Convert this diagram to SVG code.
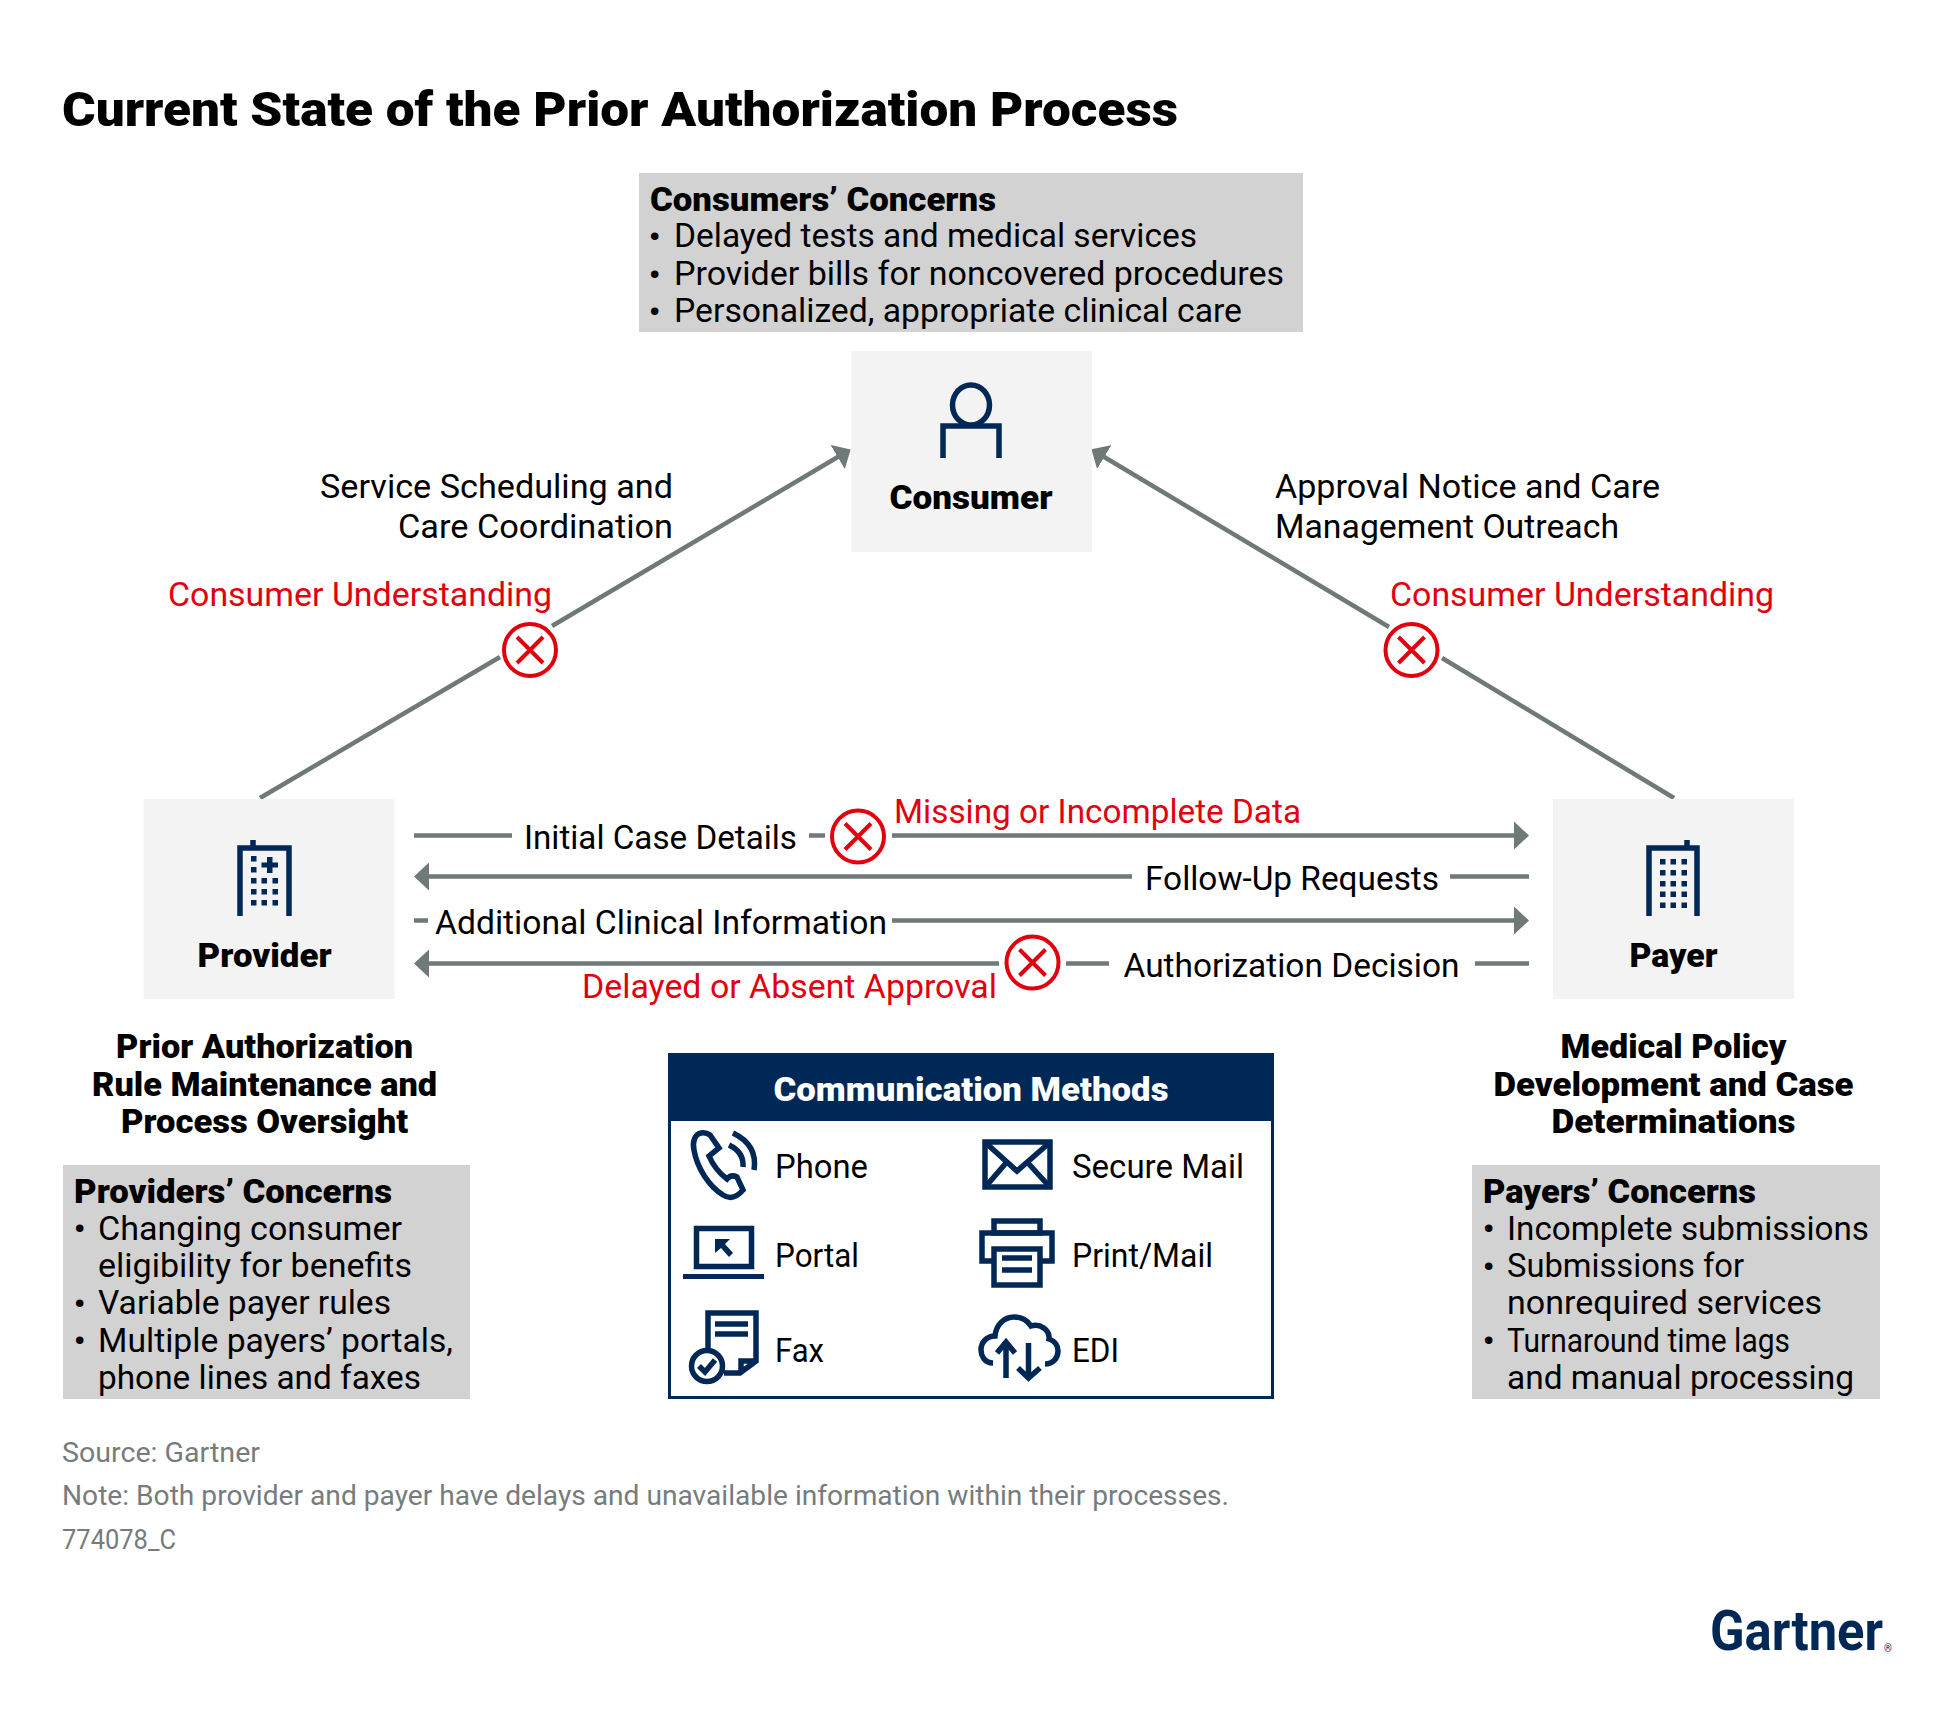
<svg xmlns="http://www.w3.org/2000/svg" width="1939" height="1709" viewBox="0 0 1939 1709">
<style>
text{font-family:Roboto,"Liberation Sans",sans-serif;font-size:34px;fill:#000}
.b{font-weight:900;font-size:33px}
.c{text-anchor:middle}
.r{fill:#e2000f}
.g{font-size:27px;fill:#767c7c}
.u{font-weight:900;font-size:30px}
.w{fill:#fff}
.node{fill:#f3f3f3}
.con{fill:#d2d2d2}
.ln{fill:none;stroke:#6f7a78;stroke-width:4.5}
.ic{fill:none;stroke:#002856;stroke-width:5.5}
.f{fill:#002856}
.xc{fill:#fff;stroke:#e2000f;stroke-width:4}
.xx{stroke:#e2000f;stroke-width:4;fill:none}
</style>
<defs>
<marker id="ah" markerUnits="userSpaceOnUse" markerWidth="15" markerHeight="28" viewBox="0 0 15 28" refX="5" refY="14" orient="auto"><path d="M0,0L15,14L0,28Z" fill="#6f7a78"/></marker>
<g id="x"><circle r="26" class="xc"/><path d="M-13,-13L13,13M13,-13L-13,13" class="xx"/></g>
</defs>
<rect width="1939" height="1709" fill="#fff"/>
<text id="title" x="62" y="126" class="b" style="font-size:48px" textLength="1116" lengthAdjust="spacingAndGlyphs">Current State of the Prior Authorization Process</text>

<g id="connectors">
<path class="ln" d="M260,798L500,657M552,626L842,454.500" marker-end="url(#ah)"/>
<path class="ln" d="M1674,798L1442,658M1389,627L1100,454.500" marker-end="url(#ah)"/>
<path class="ln" d="M414,835.500H512M809,835.500H825M892,835.500H1519" marker-end="url(#ah)"/>
<path class="ln" d="M1529,876.500H1450M1132,876.500H424" marker-end="url(#ah)"/>
<path class="ln" d="M414,920.500H428M892,920.500H1519" marker-end="url(#ah)"/>
<path class="ln" d="M1529,963.500H1475M1109,963.500H1066M999,963.500H424" marker-end="url(#ah)"/>
</g>
<use href="#x" x="530" y="650"/>
<use href="#x" x="1411.500" y="650"/>
<use href="#x" x="858" y="836.500"/>
<use href="#x" x="1032.500" y="962.500"/>

<g id="consumer-concerns">
<rect class="con" x="639" y="173" width="664" height="159"/>
<text x="650" y="211" class="b" textLength="346" lengthAdjust="spacingAndGlyphs">Consumers’ Concerns</text>
<text x="649" y="247" class="u">•</text><text x="674" y="247" textLength="523" lengthAdjust="spacingAndGlyphs">Delayed tests and medical services</text>
<text x="649" y="284.500" class="u">•</text><text x="674" y="284.500" textLength="610" lengthAdjust="spacingAndGlyphs">Provider bills for noncovered procedures</text>
<text x="649" y="322" class="u">•</text><text x="674" y="322" textLength="568" lengthAdjust="spacingAndGlyphs">Personalized, appropriate clinical care</text>
</g>

<g id="consumer">
<rect class="node" x="851" y="351" width="241" height="201"/>
<ellipse cx="971" cy="405" rx="18.500" ry="20" class="ic"/>
<path class="ic" d="M943,458V426H999V458"/>
<text x="971" y="509" class="b c" textLength="163" lengthAdjust="spacingAndGlyphs">Consumer</text>
</g>

<g id="provider">
<rect class="node" x="143.500" y="799" width="251" height="200"/>
<path class="ic" d="M240,916V848H289V916M253,840V848"/>
<path class="f" d="M251,856h5.500v5.500h-5.500zM251,867h5.500v5.500h-5.500zM251,878h5.500v5.500h-5.500zM261.500,878h5.500v5.500h-5.500zM272.500,878h5.500v5.500h-5.500zM251,889h5.500v5.500h-5.500zM261.500,889h5.500v5.500h-5.500zM272.500,889h5.500v5.500h-5.500zM251,900h5.500v5.500h-5.500zM261.500,900h5.500v5.500h-5.500zM272.500,900h5.500v5.500h-5.500zM267,857h5.500v5.500h5.500v5h-5.500v5.500h-5.500v-5.500h-5.500v-5h5.500z"/>
<text x="264.600" y="967" class="b c" textLength="134" lengthAdjust="spacingAndGlyphs">Provider</text>
</g>

<g id="payer">
<rect class="node" x="1553" y="799" width="241" height="200"/>
<path class="ic" d="M1649,916V848H1697V916M1687,840V848"/>
<path class="f" d="M1660,859h5.500v5.500h-5.500zM1670.500,859h5.500v5.500h-5.500zM1681.500,859h5.500v5.500h-5.500zM1660,870h5.500v5.500h-5.500zM1670.500,870h5.500v5.500h-5.500zM1681.500,870h5.500v5.500h-5.500zM1660,881h5.500v5.500h-5.500zM1670.500,881h5.500v5.500h-5.500zM1681.500,881h5.500v5.500h-5.500zM1660,891.500h5.500v5.500h-5.500zM1670.500,891.500h5.500v5.500h-5.500zM1681.500,891.500h5.500v5.500h-5.500zM1660,902.500h5.500v5.500h-5.500zM1670.500,902.500h5.500v5.500h-5.500zM1681.500,902.500h5.500v5.500h-5.500z"/>
<text x="1673.500" y="966.500" class="b c" textLength="88" lengthAdjust="spacingAndGlyphs">Payer</text>
</g>

<g id="connector-labels">
<text x="320" y="498" textLength="353" lengthAdjust="spacingAndGlyphs">Service Scheduling and</text>
<text x="398" y="538" textLength="275" lengthAdjust="spacingAndGlyphs">Care Coordination</text>
<text x="1275" y="498" textLength="385" lengthAdjust="spacingAndGlyphs">Approval Notice and Care</text>
<text x="1275" y="538" textLength="344" lengthAdjust="spacingAndGlyphs">Management Outreach</text>
<text x="168" y="606" class="r" textLength="384" lengthAdjust="spacingAndGlyphs">Consumer Understanding</text>
<text x="1390" y="606" class="r" textLength="384" lengthAdjust="spacingAndGlyphs">Consumer Understanding</text>
<text x="524" y="849" textLength="273" lengthAdjust="spacingAndGlyphs">Initial Case Details</text>
<text x="894" y="823" class="r" textLength="407" lengthAdjust="spacingAndGlyphs">Missing or Incomplete Data</text>
<text x="1145" y="890" textLength="294" lengthAdjust="spacingAndGlyphs">Follow-Up Requests</text>
<text x="435" y="933.500" textLength="452" lengthAdjust="spacingAndGlyphs">Additional Clinical Information</text>
<text x="1123.500" y="977" textLength="336" lengthAdjust="spacingAndGlyphs">Authorization Decision</text>
<text x="582" y="998" class="r" textLength="415" lengthAdjust="spacingAndGlyphs">Delayed or Absent Approval</text>
</g>

<g id="provider-role">
<text x="264.600" y="1058" class="b c" textLength="297" lengthAdjust="spacingAndGlyphs">Prior Authorization</text>
<text x="264.600" y="1095.500" class="b c" textLength="345" lengthAdjust="spacingAndGlyphs">Rule Maintenance and</text>
<text x="264.600" y="1133" class="b c" textLength="287" lengthAdjust="spacingAndGlyphs">Process Oversight</text>
</g>
<g id="payer-role">
<text x="1673.500" y="1058" class="b c" textLength="226" lengthAdjust="spacingAndGlyphs">Medical Policy</text>
<text x="1673.500" y="1095.500" class="b c" textLength="360" lengthAdjust="spacingAndGlyphs">Development and Case</text>
<text x="1673.500" y="1133" class="b c" textLength="244" lengthAdjust="spacingAndGlyphs">Determinations</text>
</g>

<g id="provider-concerns">
<rect class="con" x="63" y="1165" width="407" height="234"/>
<text x="74" y="1203" class="b" textLength="318" lengthAdjust="spacingAndGlyphs">Providers’ Concerns</text>
<text x="74" y="1239" class="u">•</text><text x="98" y="1239.500" textLength="304" lengthAdjust="spacingAndGlyphs">Changing consumer</text>
<text x="98" y="1277" textLength="314" lengthAdjust="spacingAndGlyphs">eligibility for benefits</text>
<text x="74" y="1314" class="u">•</text><text x="98" y="1314" textLength="293" lengthAdjust="spacingAndGlyphs">Variable payer rules</text>
<text x="74" y="1351" class="u">•</text><text x="98" y="1351.500" textLength="355" lengthAdjust="spacingAndGlyphs">Multiple payers’ portals,</text>
<text x="98" y="1389" textLength="323" lengthAdjust="spacingAndGlyphs">phone lines and faxes</text>
</g>

<g id="payer-concerns">
<rect class="con" x="1472" y="1165" width="408" height="234"/>
<text x="1483" y="1203" class="b" textLength="273" lengthAdjust="spacingAndGlyphs">Payers’ Concerns</text>
<text x="1483" y="1239" class="u">•</text><text x="1507" y="1239.500" textLength="362" lengthAdjust="spacingAndGlyphs">Incomplete submissions</text>
<text x="1483" y="1277" class="u">•</text><text x="1507" y="1277" textLength="237" lengthAdjust="spacingAndGlyphs">Submissions for</text>
<text x="1507" y="1314" textLength="315" lengthAdjust="spacingAndGlyphs">nonrequired services</text>
<text x="1483" y="1351" class="u">•</text><text x="1507" y="1351.500" textLength="283" lengthAdjust="spacingAndGlyphs">Turnaround time lags</text>
<text x="1507" y="1389" textLength="347" lengthAdjust="spacingAndGlyphs">and manual processing</text>
</g>

<g id="communication-methods">
<rect x="669.500" y="1054.500" width="603" height="343" fill="#fff" stroke="#002856" stroke-width="3"/>
<rect class="f" x="668" y="1053" width="606" height="68"/>
<text x="971" y="1101" class="b c w" textLength="395" lengthAdjust="spacingAndGlyphs">Communication Methods</text>
<g id="phone">
<path class="ic" d="M701,1133C695,1134 692,1142 694,1150C697,1168 709,1186 723,1195C731,1200 737,1197 743,1190L737,1177Q731,1174 727,1179Q715,1170 709,1156L719,1148L710,1135Q706,1132 701,1133Z"/>
<path class="ic" d="M729,1145Q744,1152 743,1167M733,1133Q758,1145 754,1170"/>
<text x="775" y="1178" textLength="93" lengthAdjust="spacingAndGlyphs">Phone</text>
</g>
<g id="secure-mail">
<rect class="ic" x="985" y="1142" width="65" height="45"/>
<path class="ic" d="M987,1144L1017,1171L1048,1144M987,1185L1006,1163M1048,1185L1028,1163"/>
<text x="1072" y="1178" textLength="172" lengthAdjust="spacingAndGlyphs">Secure Mail</text>
</g>
<g id="portal">
<rect class="ic" x="696.500" y="1228.500" width="55" height="38"/>
<rect class="f" x="683" y="1274" width="81" height="5"/>
<path class="f" d="M715,1239H730L725,1244L733,1253L729,1257L721,1248L715,1253Z"/>
<text x="775" y="1267" textLength="84" lengthAdjust="spacingAndGlyphs">Portal</text>
</g>
<g id="print-mail">
<rect class="ic" x="994" y="1221" width="46" height="12"/>
<path class="ic" d="M992,1261H982V1233H1052V1261H1042"/>
<rect class="ic" x="994" y="1249" width="46" height="36" fill="#fff"/>
<path class="ic" d="M1002,1258H1032M1002,1270H1032"/>
<text x="1072" y="1267" textLength="141" lengthAdjust="spacingAndGlyphs">Print/Mail</text>
</g>
<g id="fax">
<path class="ic" d="M708,1350V1313H756V1361L740,1373H724M741,1373V1361H756"/>
<path class="ic" d="M715,1324H748M715,1334H748"/>
<circle class="ic" cx="707" cy="1366" r="15.500"/>
<path class="ic" d="M699,1366L705,1372L715,1360"/>
<text x="775" y="1362" textLength="49" lengthAdjust="spacingAndGlyphs">Fax</text>
</g>
<g id="edi">
<path class="ic" d="M993,1363C984,1363 981,1355 981,1350C981,1342 987,1336 995,1336C996,1325 1004,1317 1014,1317C1021,1317 1027,1320 1031,1326C1040,1323 1050,1330 1049,1339C1055,1341 1058,1346 1058,1351C1058,1358 1053,1364 1045,1364"/>
<path class="ic" d="M1006,1378V1343M997,1353L1006,1342L1015,1353M1028.500,1343V1378M1018,1368L1028.500,1378L1040,1368"/>
<text x="1072" y="1362" textLength="47" lengthAdjust="spacingAndGlyphs">EDI</text>
</g>
</g>

<g id="footer">
<text x="62" y="1462" class="g" textLength="198" lengthAdjust="spacingAndGlyphs">Source: Gartner</text>
<text x="62" y="1505" class="g" textLength="1167" lengthAdjust="spacingAndGlyphs">Note: Both provider and payer have delays and unavailable information within their processes.</text>
<text x="62" y="1549" class="g" textLength="114" lengthAdjust="spacingAndGlyphs">774078_C</text>
</g>
<g id="logo">
<text x="1710" y="1650" style="font-size:56px;font-weight:700;fill:#002856" textLength="173" lengthAdjust="spacingAndGlyphs">Gartner</text>
<text x="1884" y="1652" style="font-size:10px;fill:#002856">®</text>
</g>
</svg>
